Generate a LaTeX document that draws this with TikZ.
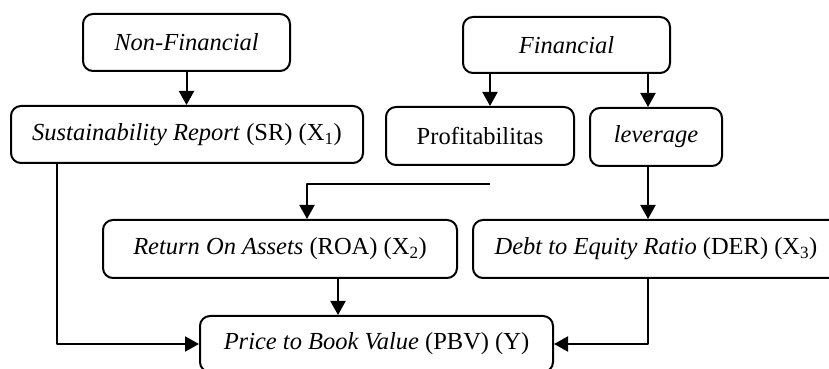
\documentclass[tikz,border=0pt]{standalone}
\usepackage{fontspec}
\setmainfont{Liberation Serif}
\usetikzlibrary{arrows.meta}

\begin{document}
\begin{tikzpicture}[x=1pt,y=1pt,line cap=round,line join=round,
    >={Triangle[width=15pt,length=14pt]},
    every node/.style={inner sep=1pt},
    varbox/.style={draw,line width=2pt,rounded corners=10pt,
      font=\fontsize{24.5}{29}\selectfont},
    link/.style={line width=2pt,line cap=butt}]
  \useasboundingbox (0,0) rectangle (829,369);
  % upper row
  \node[varbox,minimum width=207,minimum height=57] (nonfin) at (186.5,326.5) {\textit{Non-Financial}};
  \node[varbox,minimum width=207,minimum height=56] (fin) at (566.5,324) {\textit{Financial}};
  % indicators
  \node[varbox,minimum width=352,minimum height=57] (sr) at (187,234.5) {\textit{Sustainability Report} (SR) (X\textsubscript{1})};
  \node[varbox,minimum width=188,minimum height=58] (prof) at (480,233) {Profitabilitas};
  \node[varbox,minimum width=132,minimum height=58] (lev) at (656,232) {\textit{leverage}};
  % ratios
  \node[varbox,minimum width=354,minimum height=58] (roa) at (280,120) {\textit{Return On Assets} (ROA) (X\textsubscript{2})};
  \node[varbox,minimum width=366,minimum height=58] (der) at (656,120) {\textit{Debt to Equity Ratio} (DER) (X\textsubscript{3})};
  % dependent
  \node[varbox,minimum width=353,minimum height=56] (pbv) at (376.5,25) {\textit{Price to Book Value} (PBV) (Y)};
  % line positions
  \coordinate (split) at (490,185);
  \coordinate (bend) at (307,185);
  \coordinate (levx) at (648,0);
  \coordinate (srx) at (57,0);
  \coordinate (roax) at (338,0);
  % connectors
  \draw[link,->] (nonfin.south) -- (nonfin.south |- sr.north);
  \draw[link,->] (fin.south -| split) -- (prof.north -| split);
  \draw[link,->] (fin.south -| levx) -- (lev.north -| levx);
  \draw[link,->] (split) -- (bend) -- (roa.north -| bend);
  \draw[link,->] (lev.south -| levx) -- (der.north -| levx);
  \draw[link,->] (roa.south -| roax) -- (pbv.north -| roax);
  \draw[link,->] (sr.south -| srx) |- (pbv.west);
  \draw[link,->] (der.south -| levx) |- (pbv.east);
\end{tikzpicture}
\end{document}
